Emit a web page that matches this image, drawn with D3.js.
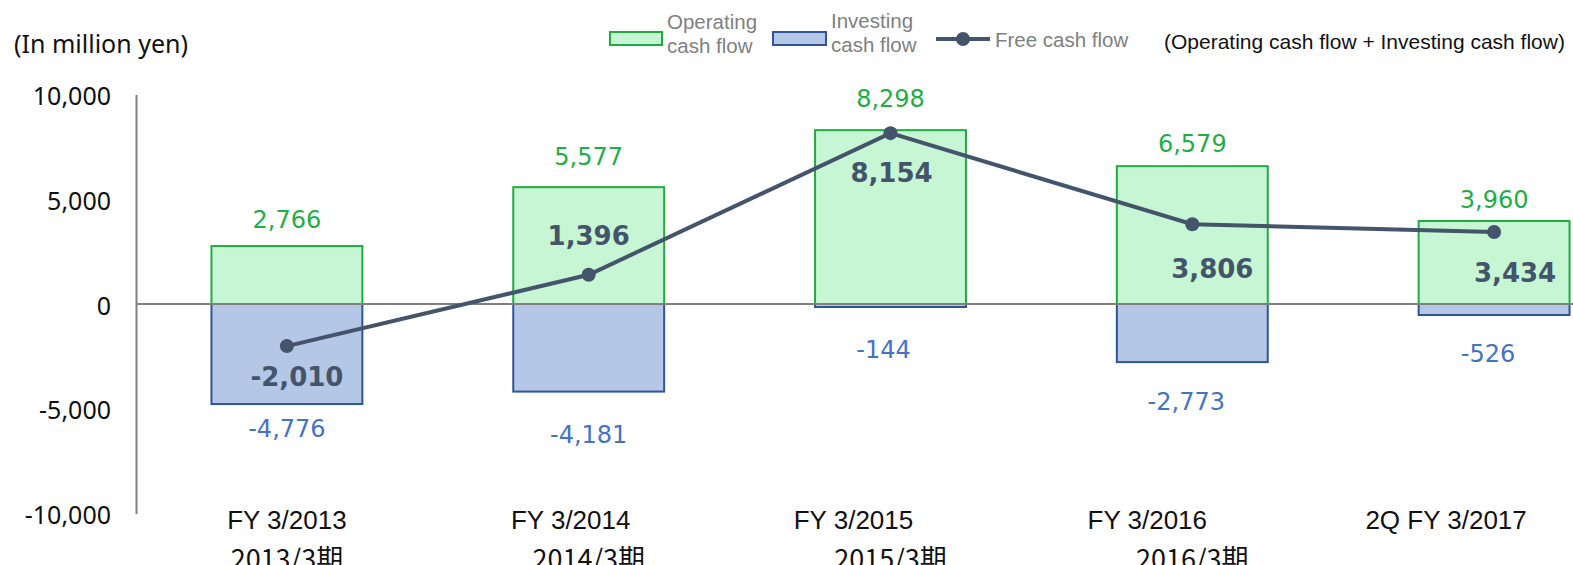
<!DOCTYPE html>
<html>
<head>
<meta charset="utf-8">
<script src="https://cdn.jsdelivr.net/npm/d3@7"></script>
<style>
  html, body { margin: 0; padding: 0; background: #fff; overflow: hidden; }
  svg { display: block; }
</style>
</head>
<body>
<svg width="1573" height="565"></svg>
<script>
// chart data
var categories = ['FY 3/2013', 'FY 3/2014', 'FY 3/2015', 'FY 3/2016', '2Q FY 3/2017']
var jpLabels = ['2013/3期', '2014/3期', '2015/3期', '2016/3期', '']
var operating = [2766, 5577, 8298, 6579, 3960]
var investing = [-4776, -4181, -144, -2773, -526]
var freeCash = [-2010, 1396, 8154, 3806, 3434]
var yTicks = [-10000, -5000, 0, 5000, 10000]

// hand placed label nudges (pixels), as in the original slide
var enLabelDx = [0, -18, -37, -45, -48]
var opLabelDy = [-18, -22, -23, -14, -13]
var invLabelDx = [0, 0, -7, -6, -6]
var invLabelDy = [33, 51, 51, 48, 47]
var fcfLabelDx = [10, 0, 1, 20, 21]
var fcfLabelDy = [40, -30, 49, 54, 50]

var green = '#21ab41', greenFill = '#c6f6d3'
var blue = '#2f5597', blueFill = '#b4c7e7'
var lineCol = '#44546a'

var fmt = d3.formatLocale({decimal: '.', thousands: ',', grouping: [3], currency: ['', ''], minus: '-'}).format(',')

var svg = d3.select('svg')

var x = d3.scaleBand().domain(categories).range([136, 1645]).paddingInner(0.5).paddingOuter(0.25)
var y = d3.scaleLinear().domain([-10000, 10000]).range([513.5, 94.5])
var cx = function(i) { return x(categories[i]) + x.bandwidth() / 2 }

// y axis
var yAxis = svg.append('g').attr('transform', 'translate(136,0)')
    .call(d3.axisLeft(y).tickValues(yTicks).tickSize(0).tickPadding(25).tickFormat(fmt))
yAxis.select('.domain').attr('stroke', '#808080').attr('stroke-width', 2)
yAxis.selectAll('text')
    .attr('font-family', 'Noto Sans').attr('font-size', 25).attr('fill', '#111')
    .attr('dy', '0.4em')

// x axis (japanese labels, cut at the bottom like the slide)
var xAxis = svg.append('g').attr('transform', 'translate(0,513.5)')
    .call(d3.axisBottom(x).tickSize(0).tickFormat(function(d, i) { return jpLabels[i] }))
xAxis.select('.domain').remove()
xAxis.selectAll('text')
    .attr('font-family', 'Noto Sans CJK JP').attr('font-size', 27).attr('fill', '#111')
    .attr('y', 55).attr('dy', 0)

// english category labels
svg.append('g').selectAll('text').data(categories).enter().append('text')
    .attr('x', function(d, i) { return cx(i) + enLabelDx[i] })
    .attr('y', 529)
    .attr('text-anchor', 'middle')
    .attr('font-family', 'Liberation Sans').attr('font-size', 26).attr('fill', '#111')
    .text(function(d) { return d })

// bars
svg.append('g').selectAll('rect').data(operating).enter().append('rect')
    .attr('x', function(d, i) { return x(categories[i]) })
    .attr('width', x.bandwidth())
    .attr('y', function(d) { return y(d) })
    .attr('height', function(d) { return y(0) - y(d) })
    .attr('fill', greenFill).attr('stroke', green).attr('stroke-width', 2)
svg.append('g').selectAll('rect').data(investing).enter().append('rect')
    .attr('x', function(d, i) { return x(categories[i]) })
    .attr('width', x.bandwidth())
    .attr('y', y(0))
    .attr('height', function(d) { return y(d) - y(0) })
    .attr('fill', blueFill).attr('stroke', blue).attr('stroke-width', 2)

// zero line
svg.append('line')
    .attr('x1', 136).attr('x2', 1573)
    .attr('y1', y(0)).attr('y2', y(0))
    .attr('stroke', '#808080').attr('stroke-width', 2)

// free cash flow line
var lineFunc = d3.line().x(function(d, i) { return cx(i) }).y(function(d) { return y(d) })
svg.append('path').attr('d', lineFunc(freeCash))
    .attr('fill', 'none').attr('stroke', lineCol).attr('stroke-width', 4)
svg.append('g').selectAll('circle').data(freeCash).enter().append('circle')
    .attr('cx', function(d, i) { return cx(i) })
    .attr('cy', function(d) { return y(d) })
    .attr('r', 7).attr('fill', lineCol)

// value labels
svg.append('g').selectAll('text').data(operating).enter().append('text')
    .attr('x', function(d, i) { return cx(i) })
    .attr('y', function(d, i) { return y(d) + opLabelDy[i] })
    .attr('text-anchor', 'middle')
    .attr('font-family', 'DejaVu Sans').attr('font-size', 24).attr('fill', '#1fae45')
    .text(fmt)
svg.append('g').selectAll('text').data(investing).enter().append('text')
    .attr('x', function(d, i) { return cx(i) + invLabelDx[i] })
    .attr('y', function(d, i) { return y(d) + invLabelDy[i] })
    .attr('text-anchor', 'middle')
    .attr('font-family', 'DejaVu Sans').attr('font-size', 24).attr('fill', '#4472c4')
    .text(fmt)
svg.append('g').selectAll('text').data(freeCash).enter().append('text')
    .attr('x', function(d, i) { return cx(i) + fcfLabelDx[i] })
    .attr('y', function(d, i) { return y(d) + fcfLabelDy[i] })
    .attr('text-anchor', 'middle')
    .attr('font-family', 'DejaVu Sans').attr('font-size', 26).attr('font-weight', 'bold')
    .attr('fill', lineCol)
    .text(fmt)

// unit
svg.append('text').attr('x', 14).attr('y', 53)
    .attr('font-family', 'Noto Sans').attr('font-size', 25).attr('fill', '#111')
    .text('(In million yen)')

// legend
var legend = svg.append('g')
    .attr('font-family', 'Liberation Sans').attr('font-size', 20.5).attr('fill', '#808080')
legend.append('rect').attr('x', 610).attr('y', 32).attr('width', 52).attr('height', 13)
    .attr('fill', greenFill).attr('stroke', green).attr('stroke-width', 2)
legend.append('text').attr('x', 667).attr('y', 29).text('Operating')
legend.append('text').attr('x', 667).attr('y', 53).text('cash flow')
legend.append('rect').attr('x', 773).attr('y', 32).attr('width', 53).attr('height', 13)
    .attr('fill', blueFill).attr('stroke', blue).attr('stroke-width', 2)
legend.append('text').attr('x', 831).attr('y', 28).text('Investing')
legend.append('text').attr('x', 831).attr('y', 52).text('cash flow')
legend.append('line').attr('x1', 936).attr('x2', 990).attr('y1', 39).attr('y2', 39)
    .attr('stroke', lineCol).attr('stroke-width', 4)
legend.append('circle').attr('cx', 963).attr('cy', 39).attr('r', 7).attr('fill', lineCol)
legend.append('text').attr('x', 995).attr('y', 47).text('Free cash flow')
legend.append('text').attr('x', 1164).attr('y', 49).attr('fill', '#111').attr('font-size', 21)
    .text('(Operating cash flow + Investing cash flow)')
</script>
</body>
</html>
